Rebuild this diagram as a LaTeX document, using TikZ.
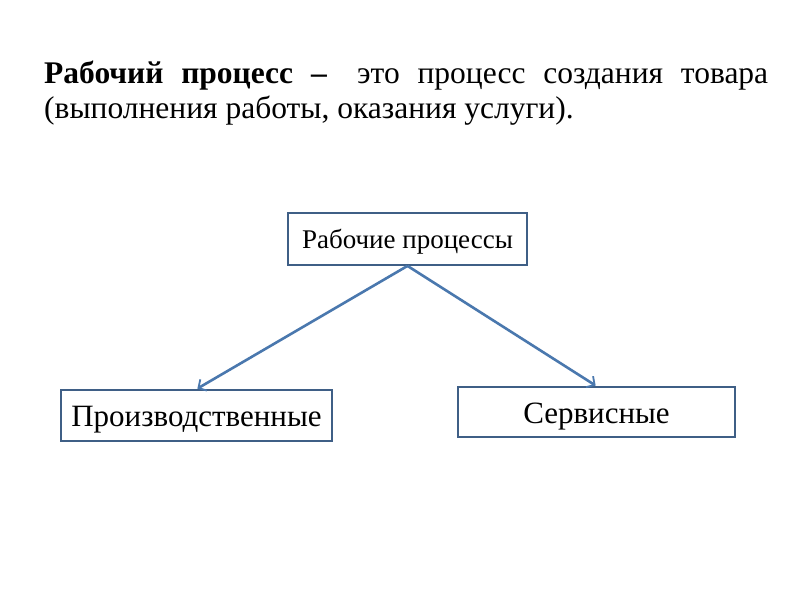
\documentclass[tikz,border=0pt]{standalone}
\usepackage{fontspec}
\setmainfont{Liberation Serif}
\usetikzlibrary{arrows.meta}
\definecolor{boxline}{HTML}{3F5F86}
\definecolor{arrowc}{HTML}{4A78AE}
\tikzset{
  pbox/.style={draw=boxline, line width=1.8pt, fill=white, inner sep=0pt, text height=26pt, text depth=5pt, font=\fontsize{31}{34}\selectfont},
  conn/.style={draw=arrowc, line width=2.6pt, -{Straight Barb[length=6pt,width=13pt,line width=1.8pt]}, shorten >=1pt}
}
\begin{document}
\begin{tikzpicture}[x=1pt,y=-1pt]
\useasboundingbox[fill=white] (0,0) rectangle (800,600);
\node[anchor=north west, inner sep=0pt, text width=724pt, align=justify, font=\fontsize{31.5}{35}\selectfont] (title) at (44,61)
  {\textbf{Рабочий процесс –}\hspace{0.4em} это процесс создания товара\linebreak (выполнения работы, оказания услуги).};
\node[pbox, minimum width=239pt, minimum height=52pt, text height=23pt, text depth=5pt, font=\fontsize{27}{30}\selectfont] (top) at (407.5,239) {Рабочие процессы};
\node[pbox, minimum width=271pt, minimum height=51pt] (left) at (196.5,415.5) {Производственные};
\node[pbox, minimum width=277pt, minimum height=50pt, text height=27pt] (right) at (596.5,412) {Сервисные};
\draw[conn] (top.south) -- (left.north);
\draw[conn] (top.south) -- (right.north);
\end{tikzpicture}
\end{document}
